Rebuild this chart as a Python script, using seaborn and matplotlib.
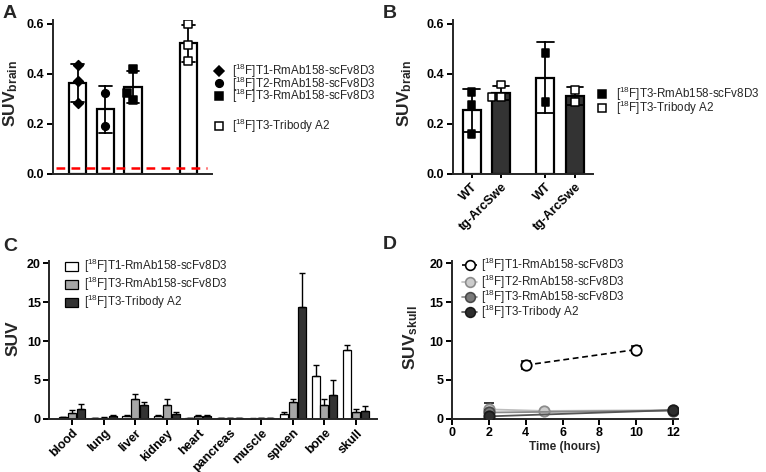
import numpy as np
import pandas as pd
import matplotlib
matplotlib.use("Agg")
import matplotlib.pyplot as plt
import seaborn as sns
from matplotlib.lines import Line2D
from matplotlib.patches import Rectangle

# ---------------- data ----------------
# Panel A: SUV brain, individual animals
a_tracers = ["T1-RmAb158-scFv8D3", "T2-RmAb158-scFv8D3", "T3-RmAb158-scFv8D3", "T3-Tribody A2"]
a_t1 = [0.437, 0.373, 0.283]
a_t2 = [0.324, 0.193]
a_t3 = [0.421, 0.297, 0.324]
a_tri = [0.600, 0.517, 0.453]
a_threshold = 0.025

# Panel B: SUV brain, WT vs tg-ArcSwe
b_groups = ["group 1", "group 2"]
b_genotypes = ["WT", "tg-ArcSwe"]
b_g1_wt = [0.328, 0.277, 0.159]
b_g1_tg = [0.358, 0.308, 0.308]
b_g2_wt = [0.485, 0.287]
b_g2_tg = [0.337, 0.287]

# Panel C: ex vivo biodistribution
c_organs = ["blood", "lung", "liver", "kidney", "heart", "pancreas", "muscle", "spleen", "bone", "skull"]
c_tracers = ["T1-RmAb158-scFv8D3", "T3-RmAb158-scFv8D3", "T3-Tribody A2"]
c_t1_mean = [0.2, 0.08, 0.4, 0.35, 0.08, 0.03, 0.02, 0.6, 5.5, 8.9]
c_t1_sd = [0.05, 0.03, 0.1, 0.1, 0.03, 0.01, 0.01, 0.2, 1.4, 0.6]
c_t3_mean = [0.7, 0.15, 2.6, 1.75, 0.3, 0.1, 0.04, 2.1, 1.75, 0.85]
c_t3_sd = [0.4, 0.1, 0.6, 0.85, 0.15, 0.03, 0.01, 0.5, 0.85, 0.35]
c_tri_mean = [1.3, 0.3, 1.8, 0.55, 0.35, 0.06, 0.04, 14.4, 3.1, 1.05]
c_tri_sd = [0.65, 0.2, 0.3, 0.35, 0.1, 0.02, 0.01, 4.3, 1.9, 0.6]

# Panel D: SUV skull over time
d_t1_time = [4, 10]
d_t1 = [6.9, 8.9]
d_t1_sd = [0.5, 0.5]
d_t2_time = [2, 5, 12]
d_t2 = [1.2, 1.0, 1.1]
d_t2_sd = [0.85, 0.15, 0.15]
d_t3_time = [2, 12]
d_t3 = [0.8, 1.05]
d_t3_sd = [0.3, 0.2]
d_tri_time = [2, 12]
d_tri = [0.3, 1.1]
d_tri_sd = [0.1, 0.2]

# ---------------- style ----------------
sns.set_theme(style="ticks")
plt.rcParams["font.family"] = ["Liberation Sans", "DejaVu Sans"]
plt.rcParams["mathtext.fontset"] = "custom"
plt.rcParams["mathtext.rm"] = "Liberation Sans"
plt.rcParams["mathtext.bf"] = "Liberation Sans:bold"
plt.rcParams["mathtext.it"] = "Liberation Sans:italic"
plt.rcParams["axes.linewidth"] = 1.4

W, H = 766, 472
fig = plt.figure(figsize=(W / 100, H / 100), dpi=100)


def box(l, t, r, b):
    return [l / W, 1 - b / H, (r - l) / W, (b - t) / H]


def fx(x):
    return x / W


def fy(y):
    return 1 - y / H


def lab(name):
    return r"[$\mathregular{^{18}}$F]" + name


def style_axes(ax):
    sns.despine(ax=ax)
    ax.tick_params(width=1.4, length=4, labelsize=9, pad=2, colors="black")
    for t in ax.get_xticklabels() + ax.get_yticklabels():
        t.set_fontweight("bold")


LEG_FS = 8.4

# ---------------- Panel A ----------------
axA = fig.add_axes(box(52.7, 20, 211.7, 174))
dfA = pd.DataFrame({
    "tracer": [a_tracers[0]] * len(a_t1) + [a_tracers[1]] * len(a_t2)
    + [a_tracers[2]] * len(a_t3) + [a_tracers[3]] * len(a_tri),
    "suv": a_t1 + a_t2 + a_t3 + a_tri,
})
orderA = [a_tracers[0], a_tracers[1], a_tracers[2], "", a_tracers[3]]
sns.barplot(data=dfA, x="tracer", y="suv", order=orderA, errorbar="sd",
            color="white", edgecolor="black", linewidth=1.6, width=0.62,
            capsize=0.45, err_kws={"color": "black", "linewidth": 1.3}, ax=axA)
a_markers = ["D", "o", "s", "s"]
a_faces = ["black", "black", "black", "white"]
for tr, m, fc in zip(a_tracers, a_markers, a_faces):
    sns.swarmplot(data=dfA[dfA.tracer == tr], x="tracer", y="suv", order=orderA,
                  marker=m, color=fc, edgecolor="black", linewidth=1.1,
                  size=5.5 if m != "D" else 5, ax=axA, zorder=5)
axA.axhline(a_threshold, xmin=0.02, xmax=0.97, color="red", ls=(0, (3.5, 2.5)), lw=1.8, zorder=6)
axA.set_xlim(-0.9, 4.84)
axA.set_ylim(0, 0.616)
axA.set_yticks([0.0, 0.2, 0.4, 0.6])
axA.set_yticklabels(["0.0", "0.2", "0.4", "0.6"])
axA.set_xticks([])
axA.set_xlabel("")
axA.set_ylabel(r"SUV$_{\mathbf{brain}}$", fontsize=12.5, fontweight="bold", va="center")
axA.yaxis.set_label_coords(-0.265, 0.52)
style_axes(axA)

legA = [(70.7, "D", "black", lab("T1-RmAb158-scFv8D3")),
        (83.4, "o", "black", lab("T2-RmAb158-scFv8D3")),
        (96.1, "s", "black", lab("T3-RmAb158-scFv8D3")),
        (126.0, "s", "white", lab("T3-Tribody A2"))]
for y, m, fc, txt in legA:
    fig.add_artist(Line2D([fx(218.5)], [fy(y)], transform=fig.transFigure, marker=m,
                          markersize=5.5 if m != "D" else 5, markerfacecolor=fc,
                          markeredgecolor="black", markeredgewidth=1.1, linestyle="none"))
    fig.text(fx(232), fy(y), txt, fontsize=LEG_FS, va="center", ha="left")

# ---------------- Panel B ----------------
axB = fig.add_axes(box(452.7, 20, 592.7, 174))
dfB = pd.DataFrame({
    "group": [b_groups[0]] * (len(b_g1_wt) + len(b_g1_tg)) + [b_groups[1]] * (len(b_g2_wt) + len(b_g2_tg)),
    "genotype": [b_genotypes[0]] * len(b_g1_wt) + [b_genotypes[1]] * len(b_g1_tg)
    + [b_genotypes[0]] * len(b_g2_wt) + [b_genotypes[1]] * len(b_g2_tg),
    "suv": b_g1_wt + b_g1_tg + b_g2_wt + b_g2_tg,
})
sns.barplot(data=dfB, x="group", y="suv", hue="genotype", hue_order=b_genotypes,
            palette={"WT": "white", "tg-ArcSwe": "#333333"}, errorbar="sd",
            edgecolor="black", linewidth=1.6, width=0.8, gap=0.39, capsize=0.45,
            err_kws={"color": "black", "linewidth": 1.3}, legend=False, ax=axB)
sns.swarmplot(data=dfB, x="group", y="suv", hue="genotype", hue_order=b_genotypes,
              palette={"WT": "black", "tg-ArcSwe": "white"}, dodge=True, marker="s",
              edgecolor="black", linewidth=1.1, size=5.5, legend=False, ax=axB, zorder=5)
centers = sorted(p.get_x() + p.get_width() / 2 for p in axB.patches if p.get_height() > 0)
axB.set_xticks(centers)
axB.set_xticklabels([b_genotypes[0], b_genotypes[1]] * 2, rotation=45, ha="right",
                    rotation_mode="anchor", fontsize=9)
axB.set_xlim(-0.457, 1.44)
axB.set_ylim(0, 0.616)
axB.set_yticks([0.0, 0.2, 0.4, 0.6])
axB.set_yticklabels(["0.0", "0.2", "0.4", "0.6"])
axB.set_xlabel("")
axB.set_ylabel(r"SUV$_{\mathbf{brain}}$", fontsize=12.5, fontweight="bold", va="center")
axB.yaxis.set_label_coords(-0.341, 0.52)
style_axes(axB)
axB.tick_params(axis="x", length=3)

legB = [(94.0, "black", lab("T3-RmAb158-scFv8D3")),
        (107.6, "white", lab("T3-Tribody A2"))]
for y, fc, txt in legB:
    fig.add_artist(Line2D([fx(602)], [fy(y)], transform=fig.transFigure, marker="s",
                          markersize=5.5, markerfacecolor=fc, markeredgecolor="black",
                          markeredgewidth=1.1, linestyle="none"))
    fig.text(fx(616), fy(y), txt, fontsize=LEG_FS, va="center", ha="left")

# ---------------- Panel C ----------------
axC = fig.add_axes(box(49.3, 261, 376.7, 418.7))
dfC = pd.DataFrame({
    "organ": c_organs * 3,
    "tracer": [c_tracers[0]] * 10 + [c_tracers[1]] * 10 + [c_tracers[2]] * 10,
    "suv": c_t1_mean + c_t3_mean + c_tri_mean,
})
c_colors = ["white", "#a6a6a6", "#333333"]
sns.barplot(data=dfC, x="organ", y="suv", hue="tracer", hue_order=c_tracers, order=c_organs,
            palette=c_colors, errorbar=None, edgecolor="black", linewidth=0.9,
            width=0.84, gap=0.08, legend=False, ax=axC)
for cont, sds in zip(axC.containers, [c_t1_sd, c_t3_sd, c_tri_sd]):
    xs = [b.get_x() + b.get_width() / 2 for b in cont]
    hs = [b.get_height() for b in cont]
    axC.errorbar(xs, hs, yerr=[np.zeros(len(sds)), sds], fmt="none", ecolor="black",
                 elinewidth=1.0, capsize=2, capthick=1.0, zorder=1)
axC.set_xlim(-0.73, 9.66)
axC.set_ylim(0, 20.3)
axC.set_yticks([0, 5, 10, 15, 20])
axC.set_xticks(range(len(c_organs)))
axC.set_xticklabels(c_organs, rotation=45, ha="right", rotation_mode="anchor", fontsize=9)
axC.set_xlabel("")
axC.set_ylabel("SUV", fontsize=12.5, fontweight="bold", va="center")
axC.yaxis.set_label_coords(-0.110, 0.512)
style_axes(axC)

legC = [(266, c_colors[0], lab("T1-RmAb158-scFv8D3")),
        (284, c_colors[1], lab("T3-RmAb158-scFv8D3")),
        (302, c_colors[2], lab("T3-Tribody A2"))]
for y, fc, txt in legC:
    fig.add_artist(Rectangle((fx(65), fy(y + 4.5)), 13 / W, 9 / H, transform=fig.transFigure,
                             facecolor=fc, edgecolor="black", linewidth=0.9))
    fig.text(fx(84), fy(y), txt, fontsize=LEG_FS, va="center", ha="left")

# ---------------- Panel D ----------------
axD = fig.add_axes(box(452, 261, 677.7, 418.7))
d_series = [
    (d_t1_time, d_t1, d_t1_sd, "white", "black", "black", (0, (3.5, 2.2)), 1.2),
    (d_t2_time, d_t2, d_t2_sd, "#cccccc", "#8c8c8c", "#bdbdbd", "-", 1.3),
    (d_t3_time, d_t3, d_t3_sd, "#7a7a7a", "#4a4a4a", "#8a8a8a", "-", 1.3),
    (d_tri_time, d_tri, d_tri_sd, "#2e2e2e", "#1a1a1a", "#555555", "-", 1.3),
]
for i, (t, y, sd, fc, ec, lc, ls, lw) in enumerate(d_series):
    axD.errorbar(t, y, yerr=sd, fmt="none", ecolor="black", elinewidth=1.1,
                 capsize=3.5, capthick=1.1, zorder=2 + i)
    sns.lineplot(x=t, y=y, color=lc, linestyle=ls, linewidth=lw, marker="o", markersize=7.5,
                 markerfacecolor=fc, markeredgecolor=ec, markeredgewidth=1.3,
                 errorbar=None, ax=axD, zorder=3 + i)
axD.set_xlim(0, 12.25)
axD.set_ylim(0, 20.3)
axD.set_xticks([0, 2, 4, 6, 8, 10, 12])
axD.set_yticks([0, 5, 10, 15, 20])
axD.set_xlabel("Time (hours)", fontsize=8.5, fontweight="bold", va="top")
axD.xaxis.set_label_coords(0.5, -0.14)
axD.set_ylabel(r"SUV$_{\mathbf{skull}}$", fontsize=12.5, fontweight="bold", va="center")
axD.yaxis.set_label_coords(-0.182, 0.512)
style_axes(axD)

legD = [(264.5, "white", "black", "black", (0, (2, 1.5)), lab("T1-RmAb158-scFv8D3")),
        (281.5, "#cccccc", "#8c8c8c", "#bdbdbd", "-", lab("T2-RmAb158-scFv8D3")),
        (296.5, "#7a7a7a", "#4a4a4a", "#8a8a8a", "-", lab("T3-RmAb158-scFv8D3")),
        (311.5, "#2e2e2e", "#1a1a1a", "#555555", "-", lab("T3-Tribody A2"))]
for y, fc, ec, lc, ls, txt in legD:
    fig.add_artist(Line2D([fx(462), fx(477)], [fy(y), fy(y)], transform=fig.transFigure,
                          color=lc, linestyle=ls, linewidth=1.2))
    fig.add_artist(Line2D([fx(469.5)], [fy(y)], transform=fig.transFigure, marker="o",
                          markersize=7, markerfacecolor=fc, markeredgecolor=ec,
                          markeredgewidth=1.2, linestyle="none"))
    fig.text(fx(481), fy(y), txt, fontsize=LEG_FS, va="center", ha="left")

# ---------------- panel letters ----------------
for x, y, s in [(3, 18, "A"), (383, 18, "B"), (3, 251, "C"), (383, 249, "D")]:
    fig.text(fx(x), fy(y), s, fontsize=14, fontweight="bold", va="baseline", ha="left")

fig.savefig("out.png", dpi=100)
